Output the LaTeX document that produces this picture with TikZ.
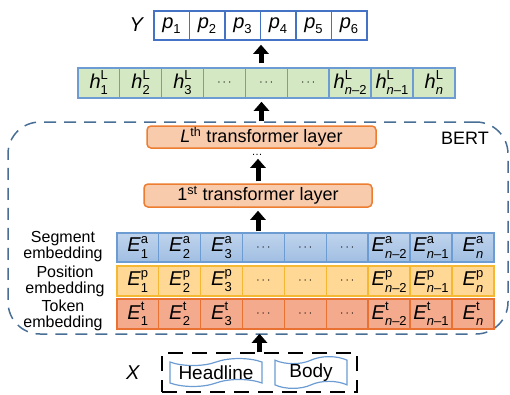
\documentclass[tikz,border=0pt]{standalone}
\usepackage{fontspec}
\setmainfont{Liberation Sans}
\usepackage{xcolor}
\definecolor{outblue}{RGB}{68,114,196}
\definecolor{cellblue}{RGB}{108,156,210}
\definecolor{hgreen}{RGB}{213,232,196}
\definecolor{segtop}{RGB}{192,212,237}
\definecolor{segbot}{RGB}{160,190,226}
\definecolor{posfill}{RGB}{255,216,150}
\definecolor{posline}{RGB}{245,184,50}
\definecolor{tokfill}{RGB}{244,170,140}
\definecolor{tokline}{RGB}{233,113,50}
\definecolor{layfill}{RGB}{248,203,173}
\definecolor{layline}{RGB}{237,125,49}
\definecolor{bertline}{RGB}{72,110,150}
\usepackage{tikz}
\usetikzlibrary{arrows.meta}
\usetikzlibrary{shapes.symbols}
\newcommand{\sym}[3]{\textit{#1}\rlap{\raisebox{0.8ex}{\fontsize{13}{13}\selectfont #2}}\raisebox{-0.62ex}{\fontsize{13}{13}\selectfont #3}}
\newcommand{\psub}[1]{\textit{p}\raisebox{-0.45ex}{\fontsize{13}{13}\selectfont #1}}
\newcommand{\celldots}{{\fontsize{13}{13}\selectfont$\cdots$}}
\newcommand{\widthcell}{41.9pt}
\newcommand{\widthp}{35.5pt}
\tikzset{
    common/.style={anchor=west, draw, rectangle, line width=1.5pt, inner sep=0pt, minimum height=29pt, font=\fontsize{20}{20}\selectfont},
    ycell/.style={common, draw=outblue, fill=white, minimum width=\widthp},
    hcell/.style={common, draw=cellblue, fill=hgreen, minimum width=\widthcell, minimum height=30pt},
    segcell/.style={common, draw=cellblue, top color=segtop, bottom color=segbot, minimum width=\widthcell},
    poscell/.style={common, draw=posline, fill=posfill, minimum width=\widthcell, minimum height=30pt},
    tokcell/.style={common, draw=tokline, fill=tokfill, minimum width=\widthcell, minimum height=30pt},
    layer/.style={draw=layline, fill=layfill, line width=1.5pt, rounded corners=4pt, inner sep=0pt, font=\fontsize{18}{18}\selectfont},
    rowlabel/.style={align=center, inner sep=0pt, font=\fontsize{16}{16}\selectfont},
    iolabel/.style={inner sep=0pt, font=\fontsize{20}{20}\selectfont},
    bertbox/.style={draw=bertline, line width=1.5pt, dash pattern=on 12pt off 8pt, rounded corners=32pt, minimum width=500pt, minimum height=212pt},
    inputbox/.style={draw, line width=1.5pt, dash pattern=on 15pt off 9pt, minimum width=195pt, minimum height=39pt},
    doc/.style={tape, draw=cellblue, line width=1.2pt, inner sep=0pt, tape bend height=7pt, minimum height=24pt, font=\fontsize{19}{19}\selectfont},
    bigarrow/.style={line width=5pt, -{Triangle[width=15pt,length=9pt]}}
}
\begin{document}
\begin{tikzpicture}[x=1pt, y=-1pt]
  \useasboundingbox (0,0) rectangle (510,394);

  % BERT frame
  \node[bertbox] (bert) at (258,228) {};
  \node[font=\fontsize{18}{18}\selectfont, inner sep=0pt] (bertlab) at (465,138) {BERT};

  % output
  \node[iolabel] (ylab) at (137,25) {\textit{Y}};
  \path (153,25.5) node[ycell] (p1) {\psub{1}}
    ++(35.5,0) node[ycell] (p2) {\psub{2}}
    ++(35.5,0) node[ycell] (p3) {\psub{3}}
    ++(35.5,0) node[ycell] (p4) {\psub{4}}
    ++(35.5,0) node[ycell] (p5) {\psub{5}}
    ++(35.5,0) node[ycell] (p6) {\psub{6}};

  % last hidden states
  \path (77,83) node[hcell] (h1) {\sym{h}{L}{1}}
    ++(41.9,0) node[hcell] (h2) {\sym{h}{L}{2}}
    ++(41.9,0) node[hcell] (h3) {\sym{h}{L}{3}}
    ++(41.9,0) node[hcell] (h4) {\celldots}
    ++(41.9,0) node[hcell] (h5) {\celldots}
    ++(41.9,0) node[hcell] (h6) {\celldots}
    ++(41.9,0) node[hcell] (h7) {\sym{h}{L}{\textit{n}–2}}
    ++(41.9,0) node[hcell] (h8) {\sym{h}{L}{\textit{n}–1}}
    ++(41.9,0) node[hcell] (h9) {\sym{h}{L}{\textit{n}}};

  % transformer layers
  \node[layer, minimum width=229pt, minimum height=22pt] (lth) at (261.5,137) {\textit{L}\textsuperscript{th} transformer layer};
  \node[inner sep=0pt, font=\fontsize{11}{11}\selectfont] (vdots) at (257,155) {\ldots};
  \node[layer, minimum width=228pt, minimum height=23pt] (first) at (258,195.5) {1\textsuperscript{st} transformer layer};

  % embeddings
  \node[rowlabel] (seglab) at (63,247) {Segment\\embedding};
  \path (116,247.5) node[segcell] (seg1) {\sym{E}{a}{1}}
    ++(41.9,0) node[segcell] (seg2) {\sym{E}{a}{2}}
    ++(41.9,0) node[segcell] (seg3) {\sym{E}{a}{3}}
    ++(41.9,0) node[segcell] (seg4) {\celldots}
    ++(41.9,0) node[segcell] (seg5) {\celldots}
    ++(41.9,0) node[segcell] (seg6) {\celldots}
    ++(41.9,0) node[segcell] (seg7) {\sym{E}{a}{\textit{n}–2}}
    ++(41.9,0) node[segcell] (seg8) {\sym{E}{a}{\textit{n}–1}}
    ++(41.9,0) node[segcell] (seg9) {\sym{E}{a}{\textit{n}}};

  \node[rowlabel] (poslab) at (65,281) {Position\\embedding};
  \path (116,281) node[poscell] (pos1) {\sym{E}{p}{1}}
    ++(41.9,0) node[poscell] (pos2) {\sym{E}{p}{2}}
    ++(41.9,0) node[poscell] (pos3) {\sym{E}{p}{3}}
    ++(41.9,0) node[poscell] (pos4) {\celldots}
    ++(41.9,0) node[poscell] (pos5) {\celldots}
    ++(41.9,0) node[poscell] (pos6) {\celldots}
    ++(41.9,0) node[poscell] (pos7) {\sym{E}{p}{\textit{n}–2}}
    ++(41.9,0) node[poscell] (pos8) {\sym{E}{p}{\textit{n}–1}}
    ++(41.9,0) node[poscell] (pos9) {\sym{E}{p}{\textit{n}}};

  \node[rowlabel] (toklab) at (63,315) {Token\\embedding};
  \path (116,314) node[tokcell] (tok1) {\sym{E}{t}{1}}
    ++(41.9,0) node[tokcell] (tok2) {\sym{E}{t}{2}}
    ++(41.9,0) node[tokcell] (tok3) {\sym{E}{t}{3}}
    ++(41.9,0) node[tokcell] (tok4) {\celldots}
    ++(41.9,0) node[tokcell] (tok5) {\celldots}
    ++(41.9,0) node[tokcell] (tok6) {\celldots}
    ++(41.9,0) node[tokcell] (tok7) {\sym{E}{t}{\textit{n}–2}}
    ++(41.9,0) node[tokcell] (tok8) {\sym{E}{t}{\textit{n}–1}}
    ++(41.9,0) node[tokcell] (tok9) {\sym{E}{t}{\textit{n}}};

  % input
  \node[iolabel] (xlab) at (133,373) {\textit{X}};
  \node[inputbox] (xin) at (259.5,372.5) {};
  \node[doc, minimum width=92pt] (headline) at (216,372.5) {Headline};
  \node[doc, minimum width=72pt] (body) at (311,372.5) {Body};

  % flow
  \draw[bigarrow, shorten >=4pt] (xin.north) -- (xin.north |- tok4.south);
  \draw[bigarrow, shorten <=1pt, shorten >=3pt] (first.south |- seg4.north) -- (first.south);
  \draw[bigarrow, shorten <=2pt, shorten >=3pt] (first.north) -- (first.north |- vdots.south);
  \draw[bigarrow, shorten <=4pt, shorten >=3pt] (lth.north) -- (lth.north |- h5.south);
  \draw[bigarrow, shorten <=4pt, shorten >=4pt] (p3.south east |- h5.north) -- (p3.south east);
\end{tikzpicture}
\end{document}
